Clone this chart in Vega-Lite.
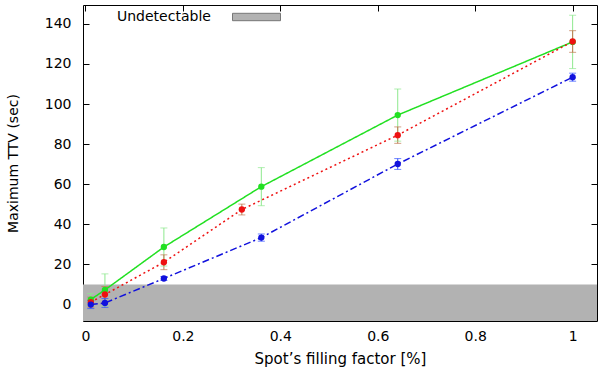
{
  "$schema": "https://vega.github.io/schema/vega-lite/v6.json",
  "width": 514,
  "height": 316,
  "autosize": "none",
  "padding": {"left": 83, "top": 5, "right": 3, "bottom": 48},
  "background": "white",
  "config": {
    "font": "DejaVu Sans",
    "view": {"stroke": "black", "strokeWidth": 1},
    "axis": {
      "grid": false,
      "domain": false,
      "tickColor": "black",
      "tickSize": -6,
      "tickWidth": 1,
      "labelFont": "DejaVu Sans",
      "labelFontSize": 14,
      "labelColor": "black",
      "titleFont": "DejaVu Sans",
      "titleFontSize": 15,
      "titleFontWeight": "normal",
      "titleColor": "black"
    }
  },
  "datasets": {
    "pts": [
      {"series": "S1", "x": 0.011, "ttv": 2.5, "lo": -0.5, "hi": 5.5},
      {"series": "S1", "x": 0.04, "ttv": 7.3, "lo": -0.7, "hi": 15.3},
      {"series": "S1", "x": 0.161, "ttv": 28.7, "lo": 19.2, "hi": 38.2},
      {"series": "S1", "x": 0.361, "ttv": 58.8, "lo": 49.3, "hi": 68.3},
      {"series": "S1", "x": 0.641, "ttv": 94.5, "lo": 81.5, "hi": 107.5},
      {"series": "S1", "x": 1.0, "ttv": 131.0, "lo": 117.7, "hi": 144.3},
      {"series": "S2", "x": 0.011, "ttv": 1.2, "lo": -1.3, "hi": 3.7},
      {"series": "S2", "x": 0.04, "ttv": 5.0, "lo": 1.0, "hi": 9.0},
      {"series": "S2", "x": 0.161, "ttv": 21.1, "lo": 17.4, "hi": 24.8},
      {"series": "S2", "x": 0.321, "ttv": 47.4, "lo": 44.7, "hi": 50.1},
      {"series": "S2", "x": 0.641, "ttv": 84.5, "lo": 80.4, "hi": 88.6},
      {"series": "S2", "x": 1.0, "ttv": 131.2, "lo": 125.8, "hi": 136.6},
      {"series": "S3", "x": 0.011, "ttv": 0.0, "lo": -2.0, "hi": 2.0},
      {"series": "S3", "x": 0.04, "ttv": 0.8, "lo": -1.4, "hi": 3.0},
      {"series": "S3", "x": 0.161, "ttv": 13.0, "lo": 12.0, "hi": 14.0},
      {"series": "S3", "x": 0.361, "ttv": 33.4, "lo": 31.6, "hi": 35.2},
      {"series": "S3", "x": 0.641, "ttv": 70.1, "lo": 67.4, "hi": 72.8},
      {"series": "S3", "x": 1.0, "ttv": 113.4, "lo": 111.4, "hi": 115.4}
    ],
    "band": [{"band": "Undetectable", "top": 10}]
  },
  "resolve": {
    "scale": {"color": "independent"},
    "axis": {"x": "independent", "y": "independent"}
  },
  "layer": [
    {
      "data": {"name": "band"},
      "mark": {"type": "rect", "strokeWidth": 0},
      "encoding": {
        "y": {"field": "top", "type": "quantitative", "scale": {"domain": [-8.2, 149.4], "nice": false, "zero": false}, "axis": null},
        "y2": {"value": "height"},
        "fill": {
          "field": "band", "type": "nominal",
          "scale": {"range": ["#b2b2b2"]},
          "legend": {
            "title": null,
            "orient": "none",
            "legendX": 16,
            "legendY": 5,
            "padding": 0,
            "symbolSize": 100,
            "symbolType": "M25.3,-0.74H34.9V0.74H25.3Z",
            "symbolStrokeColor": "#777777",
            "symbolStrokeWidth": 1,
            "symbolFillColor": "#b2b2b2",
            "labelFont": "DejaVu Sans",
            "labelFontSize": 14,
            "labelColor": "black",
            "labelOffset": 4,
            "labelLimit": 300
          }
        }
      }
    },
    {
      "data": {"name": "pts"},
      "mark": {"type": "rule", "strokeWidth": 1},
      "encoding": {
        "x": {"field": "x", "type": "quantitative", "scale": {"domain": [-0.005, 1.05], "nice": false, "zero": false},
              "axis": {"orient": "bottom", "values": [0, 0.2, 0.4, 0.6, 0.8, 1], "labelPadding": 14, "title": "Spot\u2019s filling factor [%]", "titlePadding": 8, "labelExpr": "datum.value == 0 ? '0' : datum.value == 1 ? '1' : format(datum.value, '.1f')"}},
        "y": {"field": "lo", "type": "quantitative", "scale": {"domain": [-8.2, 149.4], "nice": false, "zero": false},
              "axis": {"orient": "left", "values": [0, 20, 40, 60, 80, 100, 120, 140], "labelPadding": 18, "title": "Maximum TTV (sec)", "titleFontSize": 14, "titlePadding": 24}},
        "y2": {"field": "hi"},
        "color": {"field": "series", "type": "nominal", "scale": {"domain": ["S1", "S2", "S3"], "range": ["#8ee88e", "#c07850", "#3050ff"]}, "legend": null}
      }
    },
    {
      "data": {"name": "pts"},
      "mark": {"type": "tick", "orient": "horizontal", "size": 7, "thickness": 1},
      "encoding": {
        "x": {"field": "x", "type": "quantitative", "scale": {"domain": [-0.005, 1.05], "nice": false, "zero": false},
              "axis": {"orient": "top", "values": [0, 0.2, 0.4, 0.6, 0.8, 1], "labels": false, "title": null}},
        "y": {"field": "lo", "type": "quantitative", "scale": {"domain": [-8.2, 149.4], "nice": false, "zero": false},
              "axis": {"orient": "right", "values": [0, 20, 40, 60, 80, 100, 120, 140], "labels": false, "title": null}},
        "color": {"field": "series", "type": "nominal", "scale": {"domain": ["S1", "S2", "S3"], "range": ["#8ee88e", "#c07850", "#3050ff"]}, "legend": null}
      }
    },
    {
      "data": {"name": "pts"},
      "mark": {"type": "tick", "orient": "horizontal", "size": 7, "thickness": 1},
      "encoding": {
        "x": {"field": "x", "type": "quantitative", "scale": {"domain": [-0.005, 1.05], "nice": false, "zero": false}, "axis": null},
        "y": {"field": "hi", "type": "quantitative", "scale": {"domain": [-8.2, 149.4], "nice": false, "zero": false}, "axis": null},
        "color": {"field": "series", "type": "nominal", "scale": {"domain": ["S1", "S2", "S3"], "range": ["#8ee88e", "#c07850", "#3050ff"]}, "legend": null}
      }
    },
    {
      "data": {"name": "pts"},
      "mark": {"type": "line", "strokeWidth": 1.5},
      "encoding": {
        "x": {"field": "x", "type": "quantitative", "scale": {"domain": [-0.005, 1.05], "nice": false, "zero": false}, "axis": null},
        "y": {"field": "ttv", "type": "quantitative", "scale": {"domain": [-8.2, 149.4], "nice": false, "zero": false}, "axis": null},
        "color": {"field": "series", "type": "nominal", "scale": {"domain": ["S1", "S2", "S3"], "range": ["#22e022", "#ee1111", "#1111dd"]}, "legend": null},
        "strokeDash": {"field": "series", "type": "nominal", "scale": {"domain": ["S1", "S2", "S3"], "range": [[1, 0], [2, 3], [7, 3, 2, 3]]}, "legend": null},
        "order": {"field": "x", "type": "quantitative"}
      }
    },
    {
      "data": {"name": "pts"},
      "mark": {"type": "point", "shape": "circle", "filled": true, "size": 40, "opacity": 1},
      "encoding": {
        "x": {"field": "x", "type": "quantitative", "scale": {"domain": [-0.005, 1.05], "nice": false, "zero": false}, "axis": null},
        "y": {"field": "ttv", "type": "quantitative", "scale": {"domain": [-8.2, 149.4], "nice": false, "zero": false}, "axis": null},
        "color": {"field": "series", "type": "nominal", "scale": {"domain": ["S1", "S2", "S3"], "range": ["#22e022", "#ee1111", "#1111dd"]}, "legend": null}
      }
    }
  ]
}
